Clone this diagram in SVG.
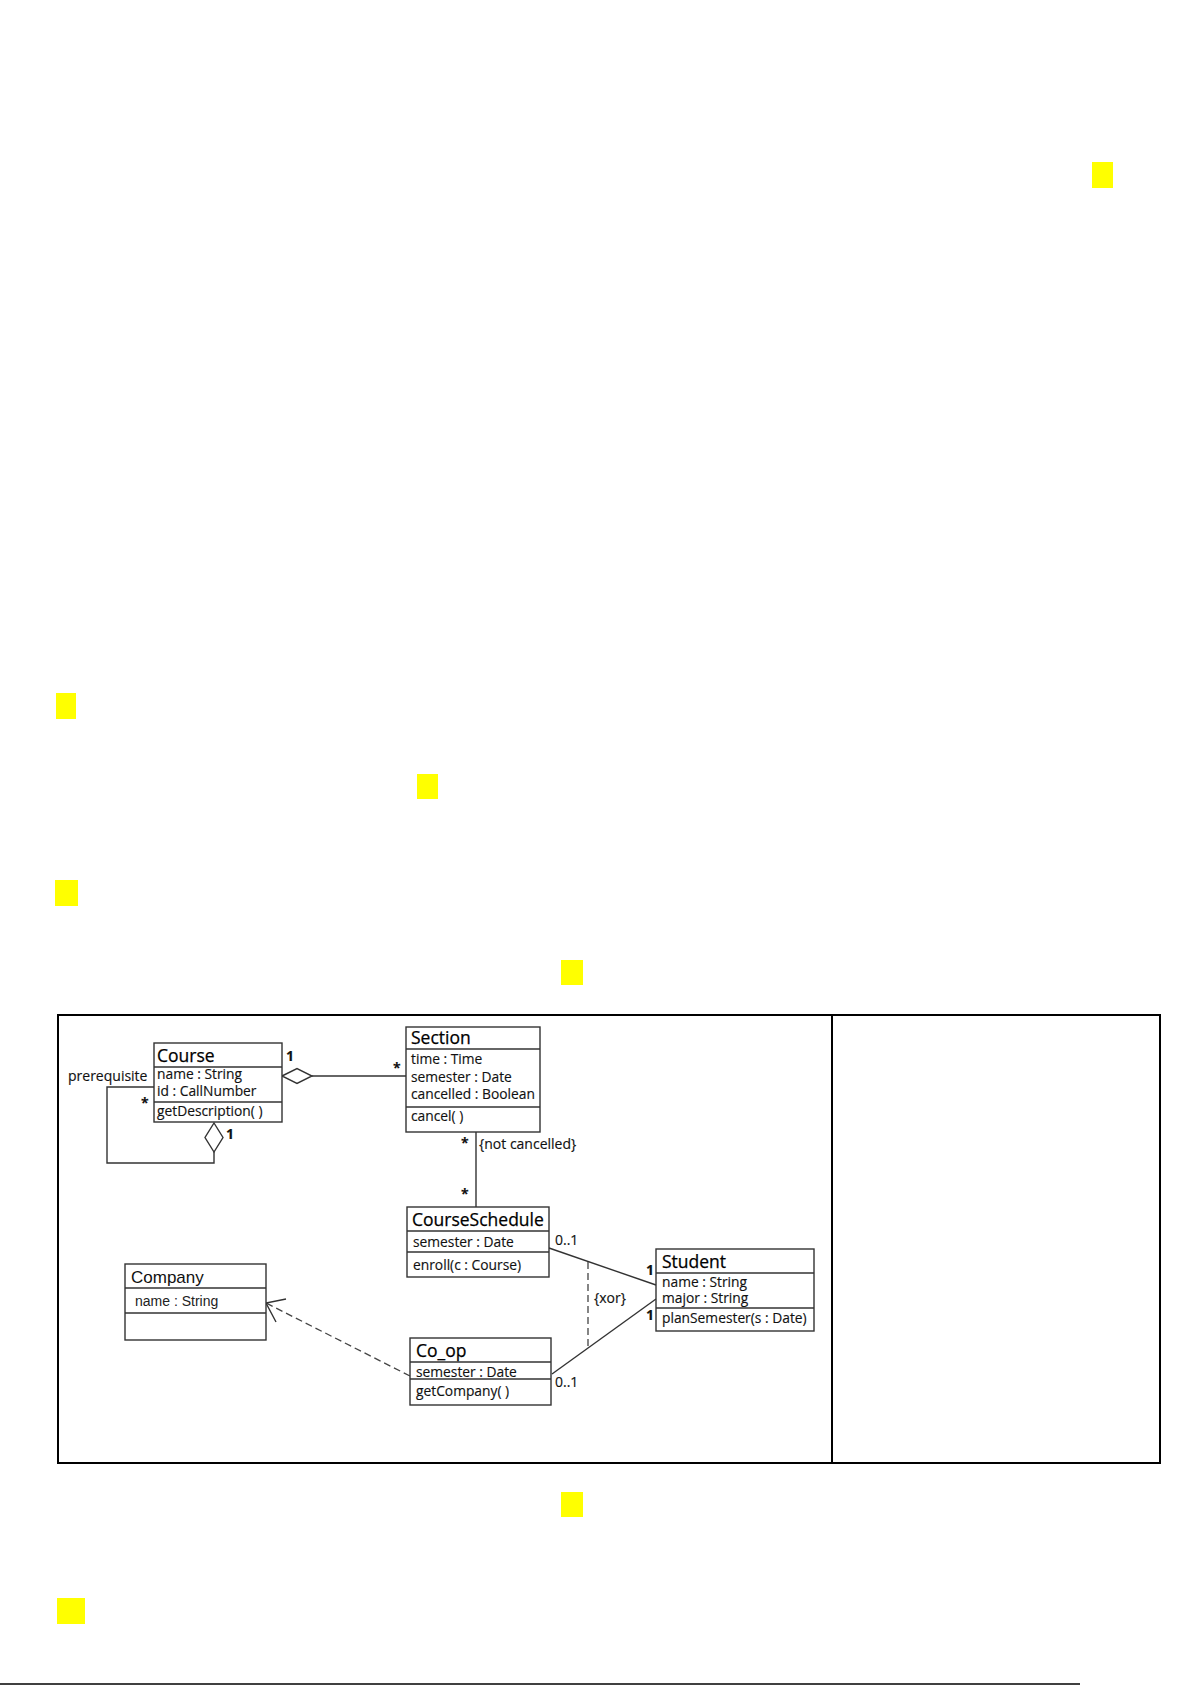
<svg xmlns="http://www.w3.org/2000/svg" width="1192" height="1685" viewBox="0 0 1192 1685">
<style>
.hl{fill:#ffff00}
.box{fill:#fff;stroke:#333;stroke-width:1.4}
.div{stroke:#333;stroke-width:1.3}
.t{font-family:"Open Sans","Noto Sans","DejaVu Sans",sans-serif;font-size:17.5px;fill:#000;stroke:#000;stroke-width:0.25}
.a{font-family:"Open Sans","Noto Sans","DejaVu Sans",sans-serif;font-size:13.8px;fill:#111;stroke:#111;stroke-width:0.15}
.ct{font-family:"Liberation Sans",Arial,sans-serif;font-size:17px;fill:#111}
.ca{font-family:"Liberation Sans",Arial,sans-serif;font-size:14px;fill:#222}
.m{font-family:"Open Sans","Noto Sans","DejaVu Sans",sans-serif;font-size:14px;fill:#111;stroke:#111;stroke-width:0.15}
.b{font-weight:bold}
.ln{fill:none;stroke:#333;stroke-width:1.4}
.dash{fill:none;stroke:#444;stroke-width:1.3;stroke-dasharray:7 4}
</style>
<rect width="1192" height="1685" fill="#fff"/>
<g id="highlights">
<rect class="hl" x="1092" y="162" width="21" height="26"/>
<rect class="hl" x="56" y="693" width="20" height="26"/>
<rect class="hl" x="417" y="774" width="21" height="25"/>
<rect class="hl" x="55" y="880" width="23" height="26"/>
<rect class="hl" x="561" y="960" width="22" height="25"/>
<rect class="hl" x="561" y="1492" width="22" height="25"/>
<rect class="hl" x="57" y="1598" width="28" height="26"/>
</g>
<g id="table">
<rect x="58" y="1015" width="1102" height="448" fill="none" stroke="#000" stroke-width="2"/>
<line x1="832" y1="1015" x2="832" y2="1463" stroke="#000" stroke-width="2"/>
</g>
<line x1="0" y1="1684" x2="1080" y2="1684" stroke="#000" stroke-width="1.5"/>
<g id="connectors">
<polygon points="282,1076 297,1068.5 312,1076 297,1083.5" fill="#fff" stroke="#333" stroke-width="1.4"/>
<line class="ln" x1="312" y1="1076" x2="406" y2="1076"/>
<polyline class="ln" points="154,1087 107,1087 107,1163 214,1163 214,1152"/>
<polygon points="214,1123 223,1137.5 214,1152 205,1137.5" fill="#fff" stroke="#333" stroke-width="1.4"/>
<line class="ln" x1="476" y1="1132" x2="476" y2="1207"/>
<line class="ln" x1="549" y1="1248" x2="656" y2="1285"/>
<line class="ln" x1="552" y1="1374" x2="656" y2="1299"/>
<line class="dash" x1="588" y1="1262" x2="588" y2="1347"/>
<line class="dash" x1="410" y1="1376" x2="266" y2="1303"/>
<polyline class="ln" points="286,1299 266,1303 276,1322"/>
<text class="m" x="68" y="1081">prerequisite</text>
<text class="m b" x="141" y="1108">*</text>
<text class="m b" x="226" y="1139">1</text>
<text class="m b" x="286" y="1061">1</text>
<text class="m b" x="393" y="1073">*</text>
<text class="m b" x="461" y="1148">*</text>
<text class="m" x="479" y="1149">{not cancelled}</text>
<text class="m b" x="461" y="1199">*</text>
<text class="m" x="555" y="1245">0..1</text>
<text class="m" x="555" y="1387">0..1</text>
<text class="m b" x="646" y="1275">1</text>
<text class="m b" x="646" y="1320">1</text>
<text class="m" x="594" y="1303">{xor}</text>
</g>
<g id="Course">
<rect class="box" x="154" y="1043" width="128" height="79"/>
<line class="div" x1="154" y1="1067" x2="282" y2="1067"/>
<line class="div" x1="154" y1="1102" x2="282" y2="1102"/>
<text class="t" x="157" y="1062">Course</text>
<text class="a" x="157" y="1079">name : String</text>
<text class="a" x="157" y="1096">id : CallNumber</text>
<text class="a" x="157" y="1116">getDescription( )</text>
</g>
<g id="Section">
<rect class="box" x="406" y="1027" width="134" height="105"/>
<line class="div" x1="406" y1="1049" x2="540" y2="1049"/>
<line class="div" x1="406" y1="1107" x2="540" y2="1107"/>
<text class="t" x="411" y="1044">Section</text>
<text class="a" x="411" y="1064">time : Time</text>
<text class="a" x="411" y="1082">semester : Date</text>
<text class="a" x="411" y="1099">cancelled : Boolean</text>
<text class="a" x="411" y="1121">cancel( )</text>
</g>
<g id="CourseSchedule">
<rect class="box" x="407" y="1207" width="142" height="70"/>
<line class="div" x1="407" y1="1231" x2="549" y2="1231"/>
<line class="div" x1="407" y1="1252" x2="549" y2="1252"/>
<text class="t" x="412" y="1226">CourseSchedule</text>
<text class="a" x="413" y="1247">semester : Date</text>
<text class="a" x="413" y="1270">enroll(c : Course)</text>
</g>
<g id="Company">
<rect class="box" x="125" y="1264" width="141" height="76"/>
<line class="div" x1="125" y1="1288" x2="266" y2="1288"/>
<line class="div" x1="125" y1="1313" x2="266" y2="1313"/>
<text class="ct" x="131" y="1283">Company</text>
<text class="ca" x="135" y="1306">name : String</text>
</g>
<g id="Co_op">
<rect class="box" x="410" y="1338" width="141" height="67"/>
<line class="div" x1="410" y1="1362" x2="551" y2="1362"/>
<line class="div" x1="410" y1="1379" x2="551" y2="1379"/>
<text class="t" x="416" y="1357">Co_op</text>
<text class="a" x="416" y="1377">semester : Date</text>
<text class="a" x="416" y="1396">getCompany( )</text>
</g>
<g id="Student">
<rect class="box" x="656" y="1249" width="158" height="82"/>
<line class="div" x1="656" y1="1273" x2="814" y2="1273"/>
<line class="div" x1="656" y1="1308" x2="814" y2="1308"/>
<text class="t" x="662" y="1268">Student</text>
<text class="a" x="662" y="1287">name : String</text>
<text class="a" x="662" y="1303">major : String</text>
<text class="a" x="662" y="1323">planSemester(s : Date)</text>
</g>
</svg>
